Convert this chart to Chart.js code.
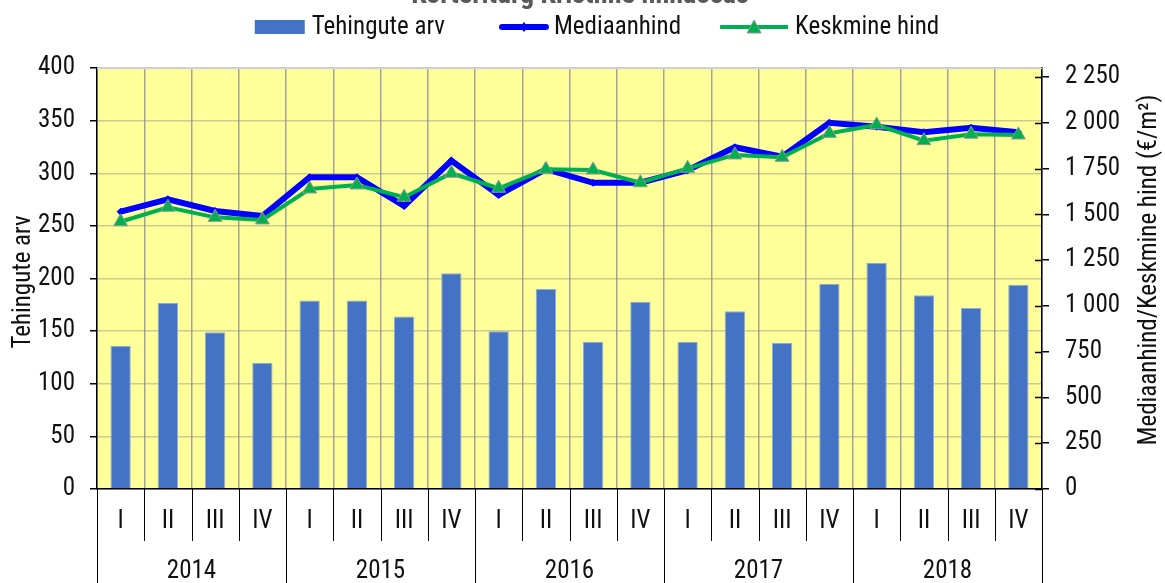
<!DOCTYPE html>
<html>
<head>
<meta charset="utf-8">
<script src="https://cdn.jsdelivr.net/npm/chart.js@4/dist/chart.umd.min.js"></script>
<style>
  html, body { margin: 0; padding: 0; background: #fff; }
  #wrap { width: 1165px; height: 583px; position: relative; overflow: hidden; }
</style>
</head>
<body>
<div id="wrap"><canvas id="c" width="1165" height="583"></canvas></div>
<script>
// Kvartalid ja aastad
const years = ['2014', '2015', '2016', '2017', '2018'];
const quarters = ['I', 'II', 'III', 'IV'];

// Tehingute arv kvartalis (vasak telg)
const tehingud = [136, 177, 149, 120, 179, 179, 164, 205, 150, 190, 140, 178, 140, 169, 139, 195, 215, 184, 172, 194];
// Mediaanhind, €/m² (parem telg)
const mediaanhind = [1515, 1583, 1519, 1491, 1703, 1703, 1546, 1794, 1606, 1747, 1673, 1673, 1742, 1867, 1815, 2001, 1979, 1949, 1974, 1949];
// Keskmine hind, €/m² (parem telg)
const keskmineHind = [1460, 1539, 1484, 1470, 1639, 1661, 1594, 1725, 1643, 1747, 1743, 1673, 1752, 1825, 1812, 1943, 1989, 1903, 1938, 1934];

// Telgede jaotised
const leftTicks = { min: 0, max: 400, step: 50 };
const rightTicks = { min: 0, max: 2300, step: 250, last: 2250 };

const chartTitle = 'Korteriturg Kristiine linnaosas';
const leftTitle = 'Tehingute arv';
const rightTitle = 'Mediaanhind/Keskmine hind (€/m²)';

const categories = [];
years.forEach(() => quarters.forEach(q => categories.push(q)));

const FONT = "'Roboto Condensed', 'Liberation Sans Narrow', Roboto, sans-serif";
const FS = 25;
const TXT = '#111';
const BAR = '#4472C4';
const BLUE = '#0000FF';
const GREEN = '#00B050';

const fmt = v => String(v).replace(/\B(?=(\d{3})+(?!\d))/g, ' ');

const decor = {
  id: 'decor',
  beforeDraw(chart) {
    const { ctx, chartArea: a } = chart;
    ctx.save();
    ctx.fillStyle = '#FFFF99';
    ctx.fillRect(a.left, a.top, a.right - a.left, a.bottom - a.top);
    ctx.restore();
  },
  afterDraw(chart) {
    const { ctx, chartArea: a } = chart;
    const y1 = chart.scales.y1;
    ctx.save();
    // top edge of plot area
    ctx.strokeStyle = '#d4d4d4';
    ctx.lineWidth = 1.5;
    ctx.beginPath(); ctx.moveTo(a.left, a.top + 0.5); ctx.lineTo(a.right, a.top + 0.5); ctx.stroke();

    // separators under the category axis
    ctx.strokeStyle = '#000';
    ctx.lineWidth = 1;
    const n = categories.length;
    const w = (a.right - a.left) / n;
    for (let i = 0; i <= n; i++) {
      const x = Math.round(a.left + i * w) + 0.5;
      const yEnd = (i % quarters.length === 0) ? chart.height : a.bottom + 52;
      ctx.beginPath(); ctx.moveTo(x, a.bottom); ctx.lineTo(x, yEnd); ctx.stroke();
    }

    // right axis ticks cross the axis line
    ctx.lineWidth = 1.5;
    y1.ticks.forEach(t => {
      const y = Math.round(y1.getPixelForValue(t.value)) + 0.5;
      ctx.beginPath(); ctx.moveTo(a.right - 7, y); ctx.lineTo(a.right, y); ctx.stroke();
    });

    // axis titles
    ctx.fillStyle = TXT;
    ctx.font = FS + 'px ' + FONT;
    ctx.textAlign = 'center';
    ctx.textBaseline = 'middle';
    ctx.save();
    ctx.translate(24, 282);
    ctx.rotate(-Math.PI / 2);
    ctx.fillText(leftTitle, 0, 0);
    ctx.restore();
    ctx.save();
    ctx.translate(1150, 270);
    ctx.rotate(-Math.PI / 2);
    ctx.fillText(rightTitle, 0, 0);
    ctx.restore();

    // chart title, top part cut by the page edge
    ctx.fillStyle = '#595959';
    ctx.font = 'bold 28px ' + FONT;
    ctx.textBaseline = 'alphabetic';
    ctx.fillText(chartTitle, 580, 3);

    // legend
    ctx.font = FS + 'px ' + FONT;
    ctx.textAlign = 'left';
    ctx.textBaseline = 'middle';
    ctx.fillStyle = TXT;
    const ly = 27;
    const items = chart.data.datasets.map(d => d.label);
    const sw = [50, 50, 68];
    const gapText = [7, 5, 7];
    const gapItem = [54, 39, 0];
    let total = 0;
    items.forEach((t, i) => { total += sw[i] + gapText[i] + ctx.measureText(t).width + gapItem[i]; });
    let x = 597 - total / 2;
    items.forEach((t, i) => {
      if (i === 0) {
        ctx.fillStyle = BAR;
        ctx.fillRect(x, ly - 7, sw[i], 14);
      } else if (i === 1) {
        ctx.strokeStyle = BLUE; ctx.lineWidth = 6; ctx.lineCap = 'round';
        ctx.beginPath(); ctx.moveTo(x + 3, ly); ctx.lineTo(x + sw[i] - 3, ly); ctx.stroke();
        ctx.fillStyle = BLUE;
        const cx = x + sw[i] / 2;
        ctx.beginPath(); ctx.moveTo(cx, ly - 5); ctx.lineTo(cx + 4, ly); ctx.lineTo(cx, ly + 5); ctx.lineTo(cx - 4, ly); ctx.closePath(); ctx.fill();
      } else {
        ctx.strokeStyle = GREEN; ctx.lineWidth = 4; ctx.lineCap = 'butt';
        ctx.beginPath(); ctx.moveTo(x, ly); ctx.lineTo(x + sw[i], ly); ctx.stroke();
        const cx = x + sw[i] / 2;
        ctx.fillStyle = GREEN; ctx.strokeStyle = '#8a9a90'; ctx.lineWidth = 1;
        ctx.beginPath(); ctx.moveTo(cx, ly - 7); ctx.lineTo(cx + 7, ly + 6); ctx.lineTo(cx - 7, ly + 6); ctx.closePath(); ctx.fill(); ctx.stroke();
      }
      x += sw[i] + gapText[i];
      ctx.fillStyle = TXT;
      ctx.fillText(t, x, ly + 1);
      x += ctx.measureText(t).width + gapItem[i];
    });
    ctx.restore();
  }
};

new Chart(document.getElementById('c'), {
  data: {
    labels: categories,
    datasets: [
      {
        type: 'bar', label: 'Tehingute arv', data: tehingud, yAxisID: 'y',
        backgroundColor: BAR, borderColor: '#8eaadb', borderWidth: 1,
        categoryPercentage: 1, barPercentage: 0.43, order: 3
      },
      {
        type: 'line', label: 'Mediaanhind', data: mediaanhind, yAxisID: 'y1',
        borderColor: BLUE, backgroundColor: BLUE, borderWidth: 6,
        pointStyle: 'rectRot', pointRadius: 4, pointBorderWidth: 0, tension: 0, order: 2
      },
      {
        type: 'line', label: 'Keskmine hind', data: keskmineHind, yAxisID: 'y1',
        borderColor: GREEN, backgroundColor: GREEN, borderWidth: 4,
        pointStyle: 'triangle', pointRadius: 8, pointBorderColor: '#8a9a90', pointBorderWidth: 1,
        tension: 0, order: 1
      }
    ]
  },
  options: {
    responsive: false,
    animation: false,
    devicePixelRatio: 1,
    layout: { padding: { top: 68, left: 0, right: 0, bottom: 0 } },
    plugins: { legend: { display: false }, tooltip: { enabled: false }, title: { display: false } },
    scales: {
      x: {
        type: 'category', position: 'bottom', offset: true,
        grid: { display: true, offset: true, color: '#a3a39b', lineWidth: 1.5, drawTicks: false },
        border: { display: true, color: '#000', width: 1.5 },
        ticks: { color: TXT, font: { family: FONT, size: FS }, padding: 18, maxRotation: 0, autoSkip: false },
        afterFit: s => { s.height = 52; }
      },
      x2: {
        type: 'category', position: 'bottom', labels: years, offset: true,
        grid: { display: false, drawTicks: false }, border: { display: false },
        ticks: { color: TXT, font: { family: FONT, size: FS }, padding: 16, maxRotation: 0, autoSkip: false },
        afterFit: s => { s.height = 42; }
      },
      y: {
        position: 'left', min: leftTicks.min, max: leftTicks.max,
        ticks: { stepSize: leftTicks.step, color: TXT, font: { family: FONT, size: FS }, padding: 15 },
        grid: { color: 'rgba(140,140,130,0.45)', lineWidth: 1.5, tickColor: '#000', tickLength: 7 },
        border: { display: true, color: '#000', width: 1.5 },
        afterFit: s => { s.width = 97; }
      },
      y1: {
        position: 'right', min: rightTicks.min, max: rightTicks.max,
        afterBuildTicks: s => {
          const t = [];
          for (let v = rightTicks.min; v <= rightTicks.last; v += rightTicks.step) t.push({ value: v });
          s.ticks = t;
        },
        ticks: { color: TXT, font: { family: FONT, size: FS }, padding: 16, callback: v => fmt(v) },
        grid: { drawOnChartArea: false, tickColor: '#000', tickLength: 7, lineWidth: 1.5 },
        border: { display: true, color: '#000', width: 1.5 },
        afterFit: s => { s.width = 123; }
      }
    }
  },
  plugins: [decor]
});
</script>
</body>
</html>
